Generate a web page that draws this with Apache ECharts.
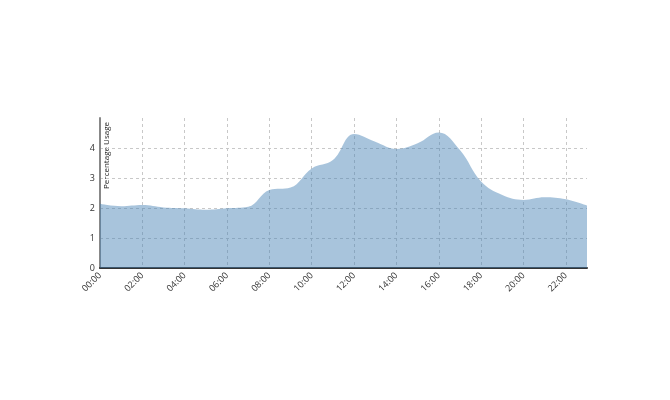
<!DOCTYPE html>
<html>
<head>
<meta charset="utf-8">
<script src="https://cdn.jsdelivr.net/npm/echarts@6/dist/echarts.min.js"></script>
<style>
  html, body { margin: 0; padding: 0; background: #fff; }
  #chart { width: 670px; height: 400px; }
</style>
</head>
<body>
<div id="chart"></div>
<script>
// hourly usage
const hours = ['00:00', '01:00', '02:00', '03:00', '04:00', '05:00', '06:00', '07:00',
  '08:00', '09:00', '10:00', '11:00', '12:00', '13:00', '14:00', '15:00',
  '16:00', '17:00', '18:00', '19:00', '20:00', '21:00', '22:00', '23:00'];
const usage = [2.14, 2.06, 2.1, 2.02, 1.99, 1.94, 1.99, 2.04,
  2.6, 2.68, 3.32, 3.6, 4.47, 4.21, 3.97, 4.16,
  4.52, 3.93, 2.88, 2.43, 2.27, 2.36, 2.29, 2.08];
const yTicks = [0, 1, 2, 3, 4, 5];

const chart = echarts.init(document.getElementById('chart'), null, { renderer: 'canvas' });

const fontFamily = '"Open Sans", sans-serif';

chart.setOption({
  animation: false,
  grid: { left: 100, right: 83, top: 118, bottom: 132 },
  xAxis: {
    type: 'category',
    data: hours,
    boundaryGap: false,
    axisLine: { lineStyle: { color: '#333', width: 2 } },
    axisTick: { show: false },
    axisLabel: {
      interval: 1,
      rotate: 45,
      fontSize: 9,
      color: '#333',
      fontFamily: fontFamily,
      margin: 6
    },
    splitLine: {
      show: true,
      interval: 1,
      lineStyle: { color: '#c8c8c8', type: [3, 3], width: 1 }
    }
  },
  yAxis: {
    type: 'value',
    min: yTicks[0],
    max: yTicks[yTicks.length - 1],
    interval: 1,
    axisLine: { show: true, lineStyle: { color: '#888', width: 2 } },
    axisTick: { show: false },
    axisLabel: {
      fontSize: 9,
      color: '#333',
      fontFamily: fontFamily,
      margin: 5,
      showMaxLabel: false
    },
    splitLine: {
      show: true,
      showMaxLine: false,
      lineStyle: { color: '#c8c8c8', type: [3, 3], width: 1 }
    }
  },
  graphic: [{
    type: 'text',
    left: 103,
    top: 122,
    rotation: Math.PI / 2,
    style: {
      text: 'Percentage Usage',
      fontSize: 8,
      fontFamily: fontFamily,
      fill: '#222',
      align: 'right',
      verticalAlign: 'top'
    }
  }],
  series: [{
    type: 'line',
    data: usage,
    smooth: 0.4,
    symbol: 'none',
    lineStyle: { width: 0 },
    areaStyle: { color: 'rgb(70,130,180)', opacity: 0.47 }
  }]
});
</script>
</body>
</html>
